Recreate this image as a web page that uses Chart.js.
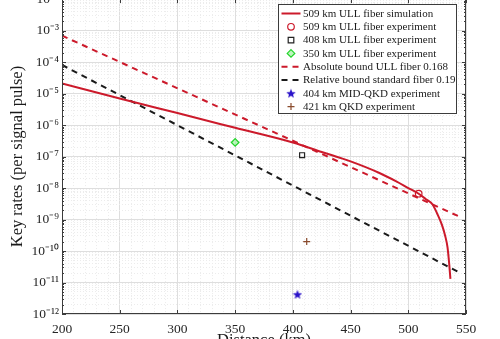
<!DOCTYPE html>
<html>
<head>
<meta charset="utf-8">
<script src="https://cdn.jsdelivr.net/npm/chart.js@4"></script>
<style>
  html, body { margin: 0; padding: 0; background: #fff; overflow: hidden; width: 500px; height: 339px; }
  #wrap { position: absolute; left: 0; top: -12px; width: 500px; height: 365px; }
</style>
</head>
<body>
<div id="wrap"><canvas id="chart"></canvas></div>
<script>
// 509 km ULL fiber simulation (distance in km, key rate per signal pulse)
const simDistance = [200, 250, 300, 350, 400, 425, 450, 475, 490, 500, 509, 515, 521, 525, 529, 532, 534, 535.5, 536.5];
const simRate = [2.1e-5, 7.0e-6, 2.4e-6, 8.2e-7, 2.8e-7, 1.4e-7, 7.0e-8, 3.0e-8, 1.6e-8, 1.0e-8, 6.6e-9, 4.5e-9, 3.0e-9, 1.55e-9, 7.0e-10, 3.0e-10, 1.3e-10, 3.7e-11, 1.3e-11];

// bounds (straight on the log axis, so two ends are enough)
const absDistance = [200, 545];
const absRate = [6.9e-4, 1.2e-9];
const relDistance = [200, 544];
const relRate = [8.1e-5, 2.1e-11];

// experiment points: 509 ULL, 408 ULL, 350 ULL, 404 MID-QKD, 421 QKD
const expDistance = [509, 408, 350, 404, 412];
const expRate = [6.6e-9, 1.1e-7, 2.8e-7, 4.2e-12, 2.0e-10];

const seriesNames = [
  '509 km ULL fiber simulation',
  '509 km ULL fiber experiment',
  '408 km ULL fiber experiment',
  '350 km ULL fiber experiment',
  'Absolute bound ULL fiber 0.168',
  'Relative bound standard fiber 0.19',
  '404 km MID-QKD experiment',
  '421 km QKD experiment'
];

const xTicks = [200, 250, 300, 350, 400, 450, 500, 550];
const yTicks = [1e-12, 1e-11, 1e-10, 1e-9, 1e-8, 1e-7, 1e-6, 1e-5, 1e-4, 1e-3, 1e-2];

const FONT = "'Liberation Serif', 'Times New Roman', serif";
const RED = '#cc1a2b';
const majorGrid = '#dedede';
const minorGrid = '#ececec';

// Helper: is the value a power of ten
function isDecade(v) {
  const l = Math.log10(v);
  return Math.abs(l - Math.round(l)) < 1e-6;
}

// Helper: "10" with a superscript exponent
function powerLabel(v) {
  const sup = { '-': '\u207B', '0': '\u2070', '1': '\u00B9', '2': '\u00B2', '3': '\u00B3', '4': '\u2074',
    '5': '\u2075', '6': '\u2076', '7': '\u2077', '8': '\u2078', '9': '\u2079' };
  const e = String(Math.round(Math.log10(v)));
  return '10' + e.split('').map(c => sup[c]).join('');
}

// minor ticks between the labelled ones
const xAll = [];
for (let i = 0; i < xTicks.length - 1; i++) {
  for (let k = 0; k < 5; k++) xAll.push(xTicks[i] + k * (xTicks[i + 1] - xTicks[i]) / 5);
}
xAll.push(xTicks[xTicks.length - 1]);
const yAll = [];
for (let i = 0; i < yTicks.length - 1; i++) {
  for (let m = 1; m <= 9; m++) yAll.push(m * yTicks[i]);
}
yAll.push(yTicks[yTicks.length - 1]);

function pts(xs, ys) {
  return xs.map((x, i) => ({ x: x, y: ys[i] }));
}

// filled five point star for the MID-QKD point
function makeStar(size, color) {
  const c = document.createElement('canvas');
  c.width = size; c.height = size;
  const g = c.getContext('2d');
  g.fillStyle = color;
  g.beginPath();
  for (let i = 0; i < 10; i++) {
    const r = i % 2 ? size * 0.21 : size * 0.5;
    const a = -Math.PI / 2 + i * Math.PI / 5;
    g.lineTo(size / 2 + r * Math.cos(a), size / 2 + 0.5 + r * Math.sin(a));
  }
  g.closePath();
  g.fill();
  return c;
}
const starImg = makeStar(10, '#2b13c9');

// draws a marker for the legend
function drawMarker(ctx, ds, x, y) {
  ctx.save();
  ctx.strokeStyle = ds.borderColor;
  ctx.fillStyle = ds.backgroundColor;
  ctx.lineWidth = ds.borderWidth;
  const r = ds.pointRadius;
  ctx.beginPath();
  if (ds.pointStyle === 'circle') {
    ctx.arc(x, y, r, 0, Math.PI * 2);
  } else if (ds.pointStyle === 'rect') {
    ctx.rect(x - r * 0.8, y - r * 0.8, r * 1.6, r * 1.6);
  } else if (ds.pointStyle === 'rectRot') {
    ctx.moveTo(x, y - r); ctx.lineTo(x + r, y); ctx.lineTo(x, y + r); ctx.lineTo(x - r, y); ctx.closePath();
  } else if (ds.pointStyle === 'cross') {
    ctx.moveTo(x - r, y); ctx.lineTo(x + r, y); ctx.moveTo(x, y - r); ctx.lineTo(x, y + r);
    ctx.stroke(); ctx.restore(); return;
  } else {
    ctx.drawImage(ds.pointStyle, x - ds.pointStyle.width / 2, y - ds.pointStyle.height / 2);
    ctx.restore(); return;
  }
  ctx.fill();
  ctx.stroke();
  ctx.restore();
}

// box round the plot with inward ticks
const framePlugin = {
  id: 'frame',
  afterDatasetsDraw(chart) {
    const { ctx, chartArea: a, scales: { x, y } } = chart;
    ctx.save();
    ctx.strokeStyle = '#3c3c3c';
    ctx.lineWidth = 1;
    ctx.beginPath();
    x.ticks.forEach(t => {
      if (t.value % 50 !== 0) return;
      const px = Math.round(x.getPixelForValue(t.value)) + 0.5;
      ctx.moveTo(px, a.bottom); ctx.lineTo(px, a.bottom - 4);
      ctx.moveTo(px, a.top); ctx.lineTo(px, a.top + 4);
    });
    y.ticks.forEach(t => {
      const py = Math.round(y.getPixelForValue(t.value)) + 0.5;
      const len = isDecade(t.value) ? 4 : 2;
      ctx.moveTo(a.left, py); ctx.lineTo(a.left + len, py);
      ctx.moveTo(a.right, py); ctx.lineTo(a.right - len, py);
    });
    ctx.stroke();
    ctx.strokeRect(Math.round(a.left) + 0.5, Math.round(a.top) + 0.5,
      Math.round(a.right - a.left) - 1, Math.round(a.bottom - a.top) - 1);
    ctx.restore();
  }
};

// legend box in the upper right corner of the plot
const legendPlugin = {
  id: 'boxLegend',
  afterDraw(chart) {
    const { ctx, chartArea: a } = chart;
    const w = 178, h = 109, rowH = 13.3;
    const left = Math.round(a.right - 10 - w) + 0.5;
    const top = Math.round(a.top + 4.5) + 0.5;
    ctx.save();
    ctx.fillStyle = '#fff';
    ctx.fillRect(left, top, w, h);
    ctx.strokeStyle = '#3c3c3c';
    ctx.lineWidth = 1;
    ctx.strokeRect(left, top, w, h);
    ctx.font = '11px ' + FONT;
    ctx.textBaseline = 'middle';
    ctx.textAlign = 'left';
    chart.data.datasets.forEach((ds, i) => {
      const cy = top + 9 + i * rowH;
      if (ds.showLine) {
        ctx.save();
        ctx.strokeStyle = ds.borderColor;
        ctx.lineWidth = ds.borderWidth;
        ctx.setLineDash(ds.borderDash || []);
        ctx.beginPath();
        ctx.moveTo(left + 3, cy);
        ctx.lineTo(left + 22, cy);
        ctx.stroke();
        ctx.restore();
      } else {
        drawMarker(ctx, ds, left + 12.5, cy);
      }
      ctx.fillStyle = '#1a1a1a';
      ctx.fillText(ds.label, left + 24.5, cy + 0.5);
    });
    ctx.restore();
  }
};

function lineSet(label, data, color, dash) {
  return {
    label: label, data: data, showLine: true, borderColor: color, backgroundColor: color,
    borderWidth: 2, borderDash: dash, pointRadius: 0, pointHoverRadius: 0,
    cubicInterpolationMode: 'monotone'
  };
}
function pointSet(label, i, style, border, fill, radius) {
  return {
    label: label, data: [{ x: expDistance[i], y: expRate[i] }], showLine: false,
    pointStyle: style, borderColor: border, backgroundColor: fill, borderWidth: 1.2,
    pointRadius: radius, pointHoverRadius: radius
  };
}

function initChart() {
  const datasets = [
    lineSet(seriesNames[0], pts(simDistance, simRate), RED, []),
    pointSet(seriesNames[1], 0, 'circle', RED, 'rgba(0,0,0,0)', 3.3),
    pointSet(seriesNames[2], 1, 'rect', '#222', 'rgba(0,0,0,0)', 3.5),
    pointSet(seriesNames[3], 2, 'rectRot', '#22d42a', 'rgba(150,240,150,0.6)', 3.8),
    lineSet(seriesNames[4], pts(absDistance, absRate), RED, [6, 5]),
    lineSet(seriesNames[5], pts(relDistance, relRate), '#1a1a1a', [6, 5]),
    pointSet(seriesNames[6], 3, starImg, '#2b13c9', '#2b13c9', 5),
    pointSet(seriesNames[7], 4, 'cross', '#8a4b2d', '#8a4b2d', 3.5)
  ];

  new Chart(document.getElementById('chart'), {
    type: 'scatter',
    data: { datasets: datasets },
    options: {
      responsive: true,
      maintainAspectRatio: false,
      animation: false,
      devicePixelRatio: 1,
      layout: { padding: { top: 8.5, right: 34, left: 0, bottom: 0 } },
      plugins: { legend: { display: false }, tooltip: { enabled: false } },
      scales: {
        x: {
          type: 'linear', min: 200, max: 550,
          afterBuildTicks(scale) { scale.ticks = xAll.map(v => ({ value: v })); },
          afterFit(scale) { scale.height = 39; },
          ticks: {
            autoSkip: false, maxRotation: 0, padding: 7, color: '#262626',
            font: { family: FONT, size: 13.5 },
            callback: v => (v % 50 === 0 ? String(v) : '')
          },
          grid: {
            drawTicks: false,
            color: c => (c.tick && c.tick.value % 50 === 0 ? majorGrid : minorGrid)
          },
          border: { display: false, dash: c => (c.tick && c.tick.value % 50 === 0 ? [] : [1, 2]) },
          title: {
            display: true, text: 'Distance (km)', color: '#1a1a1a',
            font: { family: FONT, size: 16.5 }, padding: { top: 0, bottom: 2 }
          }
        },
        y: {
          type: 'logarithmic', min: 1e-12, max: 1e-2,
          afterBuildTicks(scale) { scale.ticks = yAll.map(v => ({ value: v })); },
          afterFit(scale) { scale.width = 62; },
          ticks: {
            autoSkip: false, padding: 3, color: '#262626',
            font: { family: FONT, size: 13.5 },
            callback: v => (isDecade(v) ? powerLabel(v) : '')
          },
          grid: {
            drawTicks: false,
            color: c => (c.tick && isDecade(c.tick.value) ? majorGrid : minorGrid)
          },
          border: { display: false, dash: c => (c.tick && isDecade(c.tick.value) ? [] : [1, 2]) },
          title: {
            display: true, text: 'Key rates (per signal pulse)', color: '#1a1a1a',
            font: { family: FONT, size: 16.5 }, padding: { top: 8, bottom: 0 }
          }
        }
      }
    },
    plugins: [framePlugin, legendPlugin]
  });
}

document.addEventListener('DOMContentLoaded', initChart);
</script>
</body>
</html>
